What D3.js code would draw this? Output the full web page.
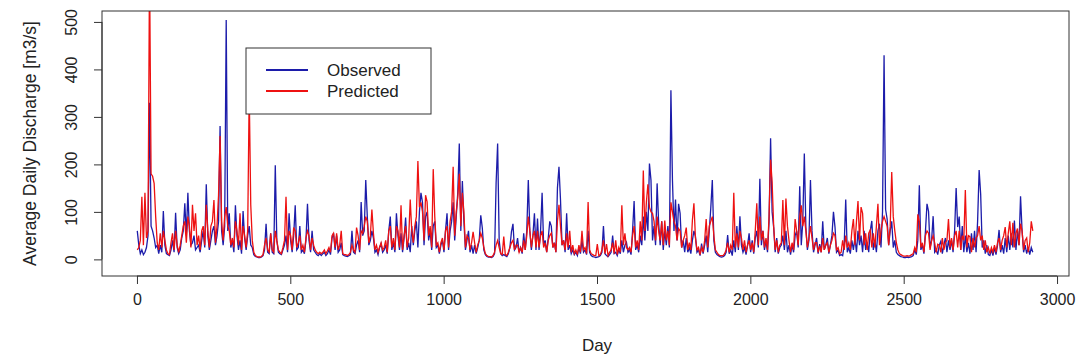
<!DOCTYPE html>
<html><head><meta charset="utf-8">
<script src="https://cdn.jsdelivr.net/npm/d3@7"></script>
<style>
body{margin:0;background:#fff}
svg{display:block}
text{font-family:"Liberation Sans",Arial,sans-serif;fill:#222}
</style>
</head><body>
<svg id="chart" width="1079" height="361"></svg>
<script>
const observed = [
60,30,12,20,10,15,25,50,330,70,60,45,25,30,12,30,15,102,30,12,
10,8,20,40,15,98,25,12,20,45,60,118,50,140,60,30,35,50,20,25,
30,15,40,60,25,158,50,20,40,60,70,30,50,80,281,60,30,70,504,60,
97,25,40,15,114,50,20,40,12,102,45,20,50,70,30,25,10,6,5,4,
4,5,8,20,75,15,12,55,15,12,198,40,15,12,10,20,30,50,15,97,
40,15,50,114,20,25,70,15,20,12,40,117,40,15,60,20,15,10,8,12,
8,12,15,8,12,20,10,45,55,20,50,15,20,35,10,8,7,6,8,10,
60,15,12,30,40,15,121,50,60,167,90,30,40,60,45,15,20,10,25,33,
15,20,30,12,60,90,20,35,15,97,50,20,55,15,45,88,20,35,15,70,
30,60,80,25,100,140,120,30,90,100,40,60,20,70,80,25,30,12,30,40,
15,60,97,20,60,80,120,40,90,140,244,60,165,80,20,40,60,15,30,12,
30,12,25,40,93,66,20,10,6,5,5,4,6,12,160,244,40,12,8,10,
8,6,12,25,58,75,20,25,45,15,25,12,55,20,60,167,60,20,50,97,
20,86,20,60,140,30,40,15,45,80,70,25,35,15,150,195,125,30,40,15,
97,20,30,12,20,10,15,8,25,12,40,15,20,10,60,15,8,6,5,4,
5,6,8,15,70,12,8,6,10,15,50,12,15,8,20,12,40,15,30,36,
15,20,10,60,123,20,30,15,50,30,90,40,100,60,202,167,40,70,30,160,
76,30,80,20,60,30,70,25,356,167,60,126,40,117,97,25,40,15,45,15,
25,12,40,60,48,15,20,8,33,12,30,50,15,60,108,167,40,15,10,8,
6,5,6,8,15,51,12,20,8,40,15,70,20,91,30,15,25,10,30,55,
15,40,12,45,60,25,170,30,60,20,40,15,80,255,100,68,15,45,12,25,
30,50,20,60,15,30,10,30,15,50,60,25,154,30,80,223,68,20,40,167,
60,15,30,45,12,32,15,80,20,30,45,12,30,50,100,68,15,20,8,10,
8,30,126,15,25,12,40,20,45,15,60,30,50,15,60,20,35,15,60,81,
20,40,15,60,75,25,101,430,105,85,30,60,80,25,40,15,10,8,6,5,
4,4,5,4,5,6,8,20,10,40,156,20,30,12,60,117,101,25,40,91,
15,20,10,30,38,12,30,45,15,40,20,40,15,60,150,68,90,20,70,15,
50,15,35,12,55,20,60,15,80,188,137,25,40,12,30,10,8,20,8,25,
10,30,62,15,30,12,45,15,50,20,55,25,82,20,60,30,133,60,15,30,
12,25,10,25,15
];
const predicted = [
20,25,40,132,30,140,45,60,620,180,175,160,90,35,20,55,25,60,40,20,
12,10,35,55,20,60,30,15,30,50,70,80,35,90,70,25,115,60,97,30,
50,20,60,70,30,115,60,25,70,80,125,35,70,135,260,80,40,90,110,70,
60,30,45,25,80,60,30,97,20,70,50,25,60,353,115,40,15,8,6,5,
5,6,10,30,45,20,15,55,20,15,60,40,20,15,12,25,40,132,20,60,
50,20,67,60,25,35,50,20,30,15,45,60,50,20,45,30,20,15,12,15,
12,15,20,12,18,25,15,50,55,25,55,20,30,60,12,10,10,8,10,15,
30,20,15,67,50,20,60,55,70,90,80,35,50,105,55,20,30,15,25,35,
20,25,40,15,60,70,25,45,20,70,60,25,114,20,50,70,25,45,126,60,
35,70,90,207,110,120,100,40,135,121,50,70,25,190,90,30,35,15,35,45,
20,60,70,25,80,100,195,50,100,130,180,70,140,100,25,50,45,20,35,58,
35,15,30,40,55,45,25,12,8,6,6,5,8,15,30,40,25,12,10,48,
10,8,15,25,35,40,20,30,30,15,25,15,40,20,50,90,60,25,50,60,
25,60,25,50,60,25,35,15,40,50,55,25,35,15,80,115,70,30,40,20,
55,25,60,15,30,12,20,10,30,15,60,20,25,12,121,20,12,10,8,8,
32,8,10,20,40,12,32,8,15,20,35,12,40,10,25,15,114,30,55,25,
20,25,15,50,70,25,40,20,80,40,187,60,120,158,110,100,97,80,40,90,
60,40,80,30,82,40,60,30,120,100,80,70,40,65,60,25,40,50,67,20,
35,20,82,118,45,20,25,10,25,15,40,85,25,70,80,90,50,20,15,10,
8,8,8,12,20,35,15,30,20,140,25,55,25,60,45,20,40,15,30,40,
20,35,15,60,118,30,90,40,60,25,45,20,90,210,163,70,20,40,15,30,
35,125,30,128,70,40,15,35,20,85,60,30,90,114,70,90,60,25,45,70,
45,20,35,35,15,28,15,45,20,30,35,15,30,40,55,50,20,25,12,15,
40,20,50,25,35,20,60,85,30,80,123,40,110,97,30,55,20,55,62,25,
55,25,70,117,30,60,80,90,80,70,30,70,184,90,60,35,20,12,10,8,
7,7,8,7,8,10,12,25,15,95,80,25,35,15,50,60,55,20,40,50,
35,15,32,30,15,45,20,35,40,85,25,45,20,50,60,25,60,20,50,40,
146,25,50,48,15,45,25,45,50,70,40,50,20,40,15,25,12,25,15,30,
15,35,45,20,40,50,68,25,55,80,30,77,25,55,65,30,75,60,20,40,
45,15,35,80,60
];
const firstDay = 1, dayStep = 5;
const xTickValues = [0, 500, 1000, 1500, 2000, 2500, 3000];
const yTickValues = [0, 100, 200, 300, 400, 500];
const seriesNames = ["Observed", "Predicted"];
const seriesColors = ["#1c1caa", "#ee1111"];
const xTitle = "Day";
const yTitle = "Average Daily Discharge [m3/s]";

const svg = d3.select("#chart");
const box = {left: 102, right: 1069, top: 11, bottom: 276};

const x = d3.scaleLinear().domain([-114, 3039]).range([box.left, box.right]);
const y = d3.scaleLinear().domain([-35, 523]).range([box.bottom, box.top]);

svg.append("defs").append("clipPath").attr("id", "plotclip")
  .append("rect").attr("x", box.left).attr("y", box.top)
  .attr("width", box.right - box.left).attr("height", box.bottom - box.top);

const line = d3.line()
  .x((d, i) => x(firstDay + i * dayStep))
  .y(d => y(d));

const plot = svg.append("g").attr("clip-path", "url(#plotclip)");
[observed, predicted].forEach((s, k) => {
  plot.append("path").datum(s)
    .attr("d", line)
    .attr("fill", "none")
    .attr("stroke", seriesColors[k])
    .attr("stroke-width", 1.3)
    .attr("stroke-linejoin", "miter");
});

// box
svg.append("rect").attr("x", box.left).attr("y", box.top)
  .attr("width", box.right - box.left).attr("height", box.bottom - box.top)
  .attr("fill", "none").attr("stroke", "#333").attr("stroke-width", 1);

// x axis
const xAxis = d3.axisBottom(x).tickValues(xTickValues).tickSize(8).tickPadding(10).tickFormat(d3.format("d"));
const gx = svg.append("g").attr("transform", `translate(0,${box.bottom})`).call(xAxis);
gx.select(".domain").attr("d", `M${x(0)},0H${x(3000)}`).attr("stroke", "#333");
gx.selectAll(".tick line").attr("stroke", "#333");
gx.selectAll(".tick text").attr("font-size", 16).style("fill", "#222")
  .attr("font-family", "Liberation Sans, Arial, sans-serif");

// y axis
const yAxis = d3.axisLeft(y).tickValues(yTickValues).tickSize(8).tickFormat(d3.format("d"));
const gy = svg.append("g").attr("transform", `translate(${box.left},0)`).call(yAxis);
gy.select(".domain").attr("d", `M0,${y(0)}V${y(500)}`).attr("stroke", "#333");
gy.selectAll(".tick line").attr("stroke", "#333");
gy.selectAll(".tick text")
  .attr("x", null).attr("dy", null)
  .attr("transform", "translate(-31,0) rotate(-90)")
  .attr("text-anchor", "middle")
  .attr("dominant-baseline", "central")
  .attr("font-size", 16).style("fill", "#222")
  .attr("font-family", "Liberation Sans, Arial, sans-serif");

// titles
svg.append("text").attr("x", (x(0) + x(3000)) / 2).attr("y", 345)
  .attr("text-anchor", "middle").attr("dominant-baseline", "central")
  .attr("font-size", 17).text(xTitle);
svg.append("text").attr("transform", `translate(30,${(box.top + box.bottom) / 2}) rotate(-90)`)
  .attr("text-anchor", "middle").attr("dominant-baseline", "central")
  .attr("font-size", 17.5).text(yTitle);

// legend
const lg = svg.append("g");
lg.append("rect").attr("x", 246).attr("y", 48).attr("width", 185).attr("height", 66)
  .attr("fill", "#fff").attr("stroke", "#333").attr("stroke-width", 1);
seriesNames.forEach((n, k) => {
  const yy = 70 + k * 21;
  lg.append("line").attr("x1", 266).attr("x2", 308).attr("y1", yy).attr("y2", yy)
    .attr("stroke", seriesColors[k]).attr("stroke-width", 2);
  lg.append("text").attr("x", 327).attr("y", yy).attr("dominant-baseline", "central")
    .attr("font-size", 17).text(n);
});
</script>
</body></html>
